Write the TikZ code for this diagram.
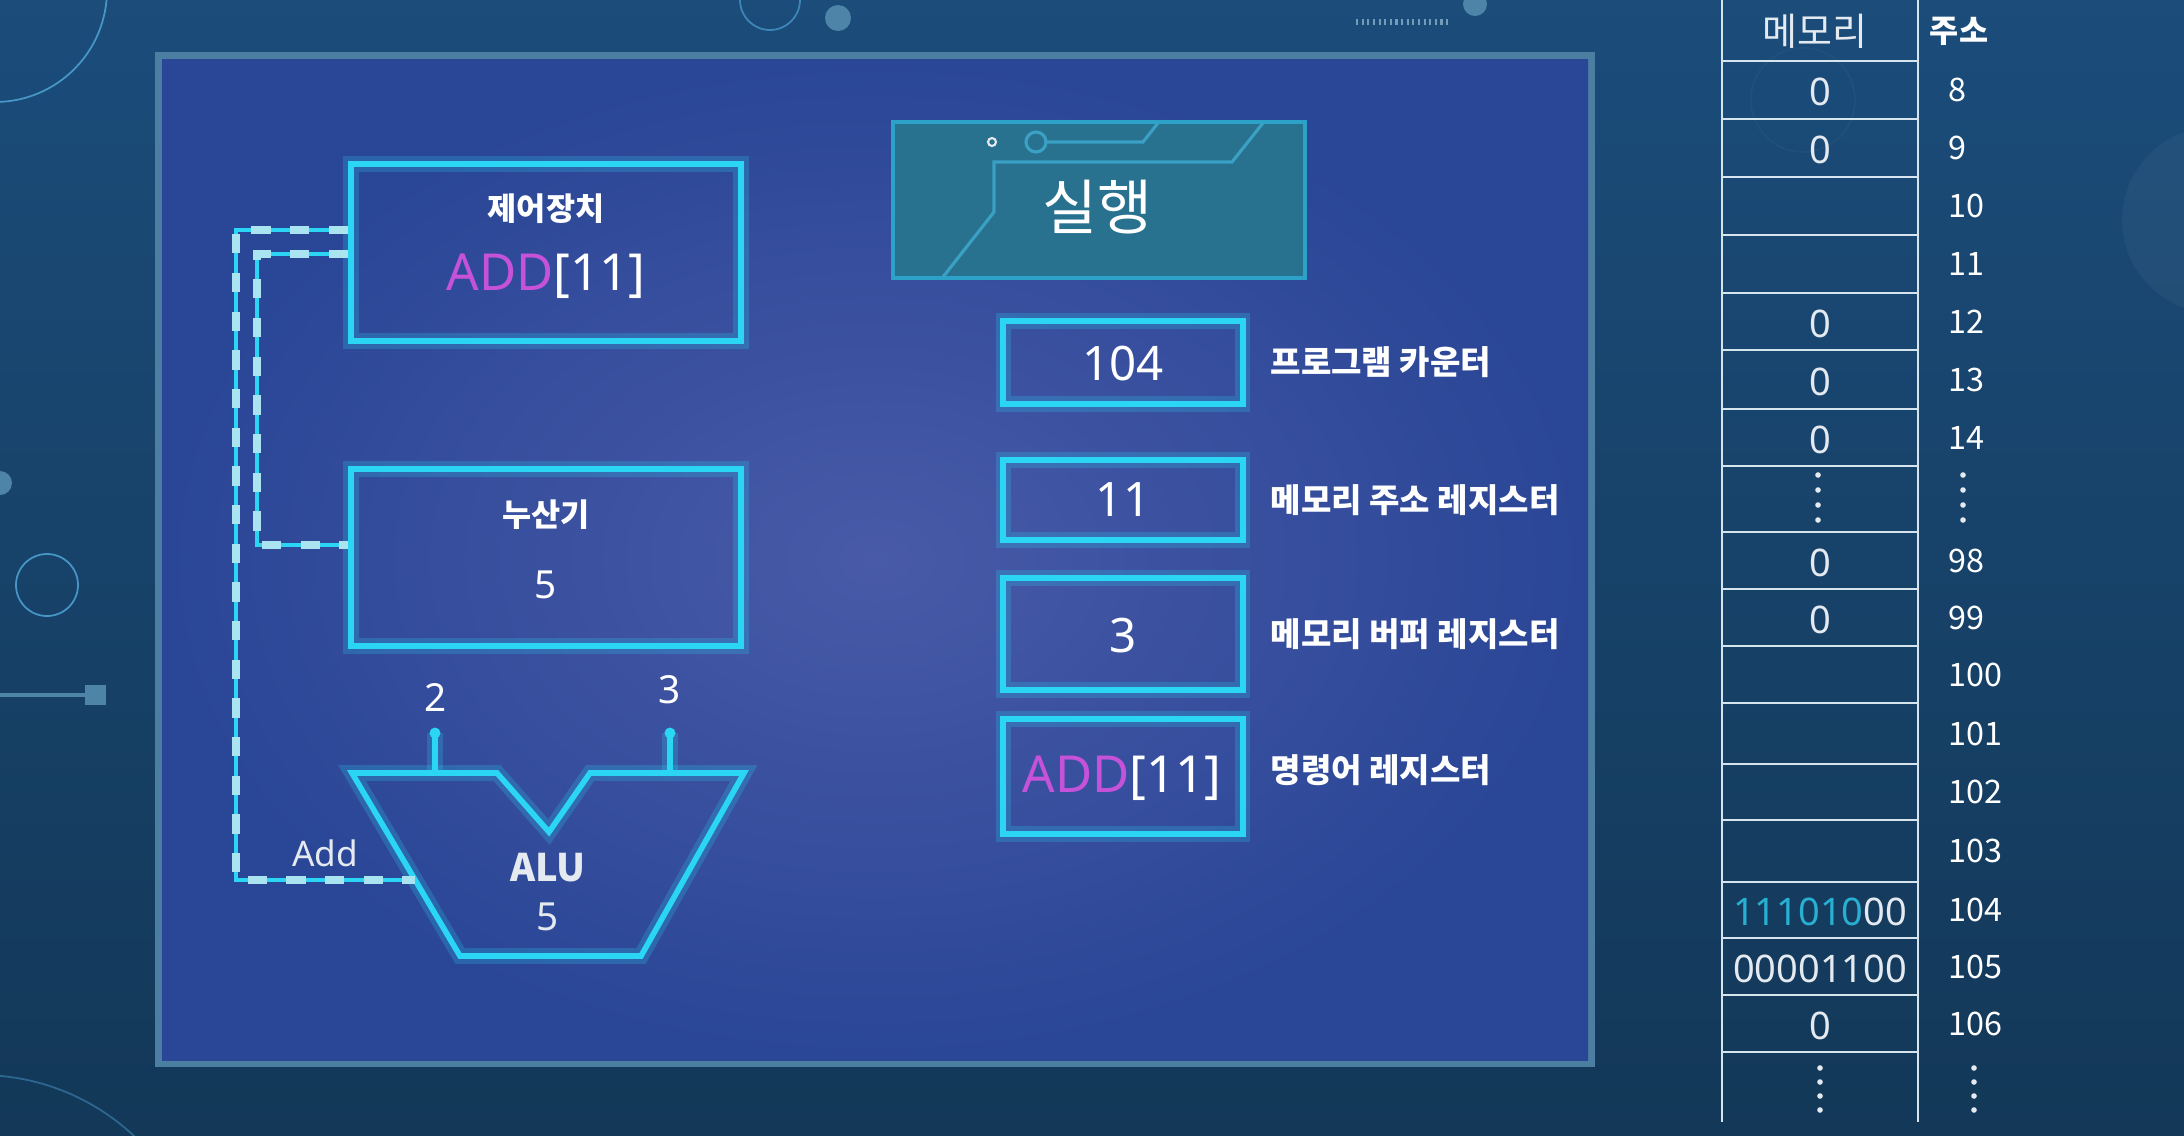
\documentclass[tikz,border=0pt]{standalone}
\usepackage{fontspec}
\setmainfont{Noto Sans}
\newfontfamily\kr{Noto Sans CJK KR}
\usetikzlibrary{calc}
\definecolor{bgtop}{RGB}{27,76,122}
\definecolor{bgbot}{RGB}{19,56,88}
\definecolor{deco}{RGB}{70,150,200}
\definecolor{decofill}{RGB}{78,132,168}
\definecolor{frame}{RGB}{76,126,162}
\definecolor{panelin}{RGB}{72,90,168}
\definecolor{panelout}{RGB}{42,70,150}
\definecolor{cyanL}{RGB}{42,214,244}
\definecolor{dashc}{RGB}{170,228,240}
\definecolor{addmag}{RGB}{198,82,218}
\definecolor{exfill}{RGB}{40,113,143}
\definecolor{exline}{RGB}{44,162,200}
\definecolor{excirc}{RGB}{58,160,196}
\definecolor{memline}{RGB}{214,228,238}
\definecolor{memtxt}{RGB}{228,234,240}
\definecolor{memcyan}{RGB}{40,176,210}
\newcommand{\myfs}[1]{\fontsize{#1}{#1}\selectfont}
\tikzset{
  glow/.style={preaction={draw=cyanL,line width=4.5pt,draw opacity=0.22}},
  cyanbox/.style={draw=cyanL,line width=1.7pt,inner sep=0pt,glow},
  cyanline/.style={draw=cyanL,line width=1.6pt,line join=miter,glow},
  bus/.style={draw=cyanL,line width=1.1pt,line join=miter,
    postaction={draw=dashc,line width=2.4pt,dash pattern=on 5.5pt off 5.5pt}},
  txt/.style={text=white,inner sep=0pt},
  unittitle/.style={txt,font=\kr\bfseries\myfs{9}},
  bigval/.style={txt,font=\myfs{14.5}},
  midval/.style={txt,font=\myfs{11}},
  reglabel/.style={txt,anchor=west,font=\kr\bfseries\myfs{9.4}},
  memval/.style={text=memtxt,inner sep=0pt,font=\myfs{10.8}},
  addr/.style={text=white,inner sep=0pt,anchor=west,font=\kr\myfs{9.2}},
  decoline/.style={draw=deco,line width=0.5pt},
  memrule/.style={draw=memline,line width=0.8pt},
}
\begin{document}
\begin{tikzpicture}[x=0.01cm,y=-0.01cm]
\useasboundingbox (0,0) rectangle (2184,1136);
% background
\shade[top color=bgtop,bottom color=bgbot] (0,0) rectangle (2184,1136);
% decorations
\draw[decoline] (-5,-10) circle (112);
\draw[decoline,draw opacity=0.8] (770,0) circle (30);
\fill[decofill] (838,18) circle (13);
\fill[decofill] (1475,4) circle (12);
\draw[draw=decofill!80!white,line width=1.5pt,dash pattern=on 0.6pt off 1pt] (1356,22) -- (1448,22);
\fill[decofill] (0,483) circle (12);
\draw[decoline] (47,585) circle (31);
\draw[draw=decofill,line width=1pt] (0,695) -- (85,695);
\fill[decofill] (85,685) rectangle (106,705);
\draw[decoline,draw opacity=0.5] (-20,1300) circle (225);
\fill[white,opacity=0.04] (2215,220) circle (93);
\draw[white,opacity=0.03,line width=0.5pt] (1803,100) circle (52);
% panel
\fill[frame] (155,52) rectangle (1595,1067);
\shade[inner color=panelin,outer color=panelout] (162,59) rectangle (1588,1060);
% control unit
\node[cyanbox,minimum width=3.9cm,minimum height=1.77cm] (cu) at (546,252.5) {};
\node[unittitle] (cut) at (546,209) {제어장치};
\node[bigval] (cuv) at (546,276) {\textcolor{addmag}{ADD}[11]};
% accumulator
\node[cyanbox,minimum width=3.9cm,minimum height=1.77cm] (acc) at (546,557.5) {};
\node[unittitle] (acct) at (546,515) {누산기};
\node[midval] (accv) at (546,585) {5};
% ALU
\draw[cyanline] (352,773) -- (497,773) -- (549,832) -- (590,773) -- (744,773) -- (641,956) -- (460,956) -- cycle;
\coordinate (aluL) at (415,880);
\coordinate (aluA) at (435,773);
\coordinate (aluB) at (670,773);
\coordinate (pinA) at (435,733);
\coordinate (pinB) at (670,733);
\node[txt,font=\kr\bfseries\myfs{10.8},text=memtxt] (alut) at (548,868) {ALU};
\node[midval,text=memtxt] (aluv) at (548,917) {5};
\draw[cyanline] (aluA) -- (pinA);
\draw[cyanline] (aluB) -- (pinB);
\fill[cyanL] (pinA) circle (5.5);
\fill[cyanL] (pinB) circle (5.5);
\node[midval] (in2) at (436,697) {2};
\node[midval] (in3) at (670,690) {3};
\node[txt,font=\myfs{10},text=memtxt] (addl) at (325,853) {Add};
% buses
\draw[bus] (cu.west |- 0,230) -- (236,230) -- (236,880) -- (aluL);
\draw[bus] (cu.west |- 0,254) -- (257,254) -- (257,545) -- (acc.west |- 0,545);
% execute box
\node[draw=exline,fill=exfill,line width=1.2pt,minimum width=4.12cm,minimum height=1.56cm,inner sep=0pt] (ex) at (1099,200) {};
\draw[excirc,line width=0.9pt] (943,277) -- (994,212) -- (994,162) -- (1232,162) -- (1263,123);
\draw[excirc,line width=0.9pt] (1046,142) -- (1143,142) -- (1158,123);
\draw[excirc,line width=0.9pt] (1036,142) circle (10);
\draw[memtxt,line width=0.6pt] (992,142) circle (4);
\node[txt,font=\kr\myfs{17}] (ext) at (1097,207) {실행};
% registers
\node[cyanbox,minimum width=2.39cm,minimum height=0.83cm] (pc) at (1123,362.5) {};
\node[bigval,font=\myfs{13.5}] (pcv) at (1123,364) {104};
\node[reglabel] (pcl) at (1270,362) {프로그램 카운터};
\node[cyanbox,minimum width=2.39cm,minimum height=0.80cm] (mar) at (1123,500) {};
\node[bigval,font=\myfs{13.5}] (marv) at (1123,500) {11};
\node[reglabel] (marl) at (1270,500) {메모리 주소 레지스터};
\node[cyanbox,minimum width=2.39cm,minimum height=1.12cm] (mbr) at (1123,634) {};
\node[bigval,font=\myfs{13.5}] (mbrv) at (1123,636) {3};
\node[reglabel] (mbrl) at (1270,634) {메모리 버퍼 레지스터};
\node[cyanbox,minimum width=2.39cm,minimum height=1.15cm] (ir) at (1123,776.5) {};
\node[bigval] (irv) at (1122,778) {\textcolor{addmag}{ADD}[11]};
\node[reglabel] (irl) at (1270,770) {명령어 레지스터};
% memory table
\draw[memrule] (1722,0) -- (1722,1122);
\draw[memrule] (1918,0) -- (1918,1122);
\foreach \yy in {61,119,177,235,293,350,409,466,532,589,646,703,764,820,882,938,995,1052}
  \draw[memrule] (1722,\yy) -- (1918,\yy);
\node[memval,font=\kr\myfs{10.8}] (mh) at (1815,31) {메모리};
\node[txt,font=\kr\bfseries\myfs{9}] (ah) at (1959,31) {주소};
\foreach \a/\b/\v/\ad in {61/119/0/8,119/177/0/9,177/235//10,235/293//11,293/350/0/12,350/409/0/13,409/466/0/14,532/589/0/98,589/646/0/99,646/703//100,703/764//101,764/820//102,820/882//103,938/995/00001100/105,995/1052/0/106}{
  \node[memval] (mv\ad) at (1820,{(\a+\b)/2+2}) {\v};
  \node[addr] (ma\ad) at (1948,{(\a+\b)/2}) {\ad};
}
\node[memval] (mv104) at (1820,912) {\textcolor{memcyan}{111010}00};
\node[addr] (ma104) at (1948,910) {104};
\foreach \yy in {475,490,505,520}{
  \fill[memtxt] (1818,\yy) circle (2.8);
  \fill[memtxt] (1963,\yy) circle (2.8);
}
\foreach \yy in {1068,1082,1096,1110}{
  \fill[memtxt] (1820,\yy) circle (2.8);
  \fill[memtxt] (1974,\yy) circle (2.8);
}
\end{tikzpicture}
\end{document}
